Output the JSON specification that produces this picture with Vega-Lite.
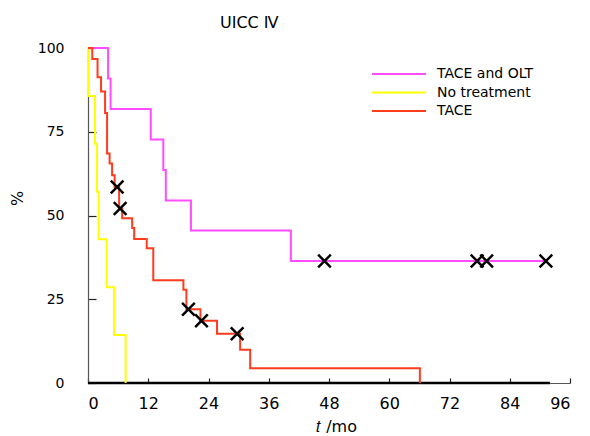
{
  "$schema": "https://vega.github.io/schema/vega-lite/v6.json",
  "width": 482,
  "height": 335,
  "autosize": {"type": "none"},
  "padding": {"left": 88, "top": 48, "right": 20, "bottom": 53},
  "title": {
    "text": "UICC Ⅳ",
    "anchor": "start",
    "frame": "group",
    "dx": 132,
    "offset": -3,
    "baseline": "alphabetic",
    "fontSize": 16,
    "font": "DejaVu Sans",
    "fontWeight": "normal",
    "color": "#000"
  },
  "config": {
    "view": {"stroke": null},
    "font": "DejaVu Sans",
    "axis": {
      "grid": false,
      "domainColor": "#555",
      "domainWidth": 1.2,
      "tickColor": "#222",
      "tickWidth": 1.2,
      "labelColor": "#000",
      "labelFontSize": 15,
      "titleFontSize": 16,
      "titleFontWeight": "normal",
      "titleColor": "#000"
    }
  },
  "encoding": {
    "x": {
      "field": "t",
      "type": "quantitative",
      "scale": {"domain": [0, 96], "nice": false},
      "axis": {
        "title": "𝑡 /mo",
        "values": [0, 12, 24, 36, 48, 60, 72, 84, 96],
        "tickSize": -5,
        "labelPadding": 17,
        "labelFontSize": 16,
        "titleX": 248,
        "titleY": 48,
        "titleBaseline": "alphabetic",
        "titleAlign": "center"
      }
    },
    "y": {
      "field": "s",
      "type": "quantitative",
      "scale": {"domain": [0, 100], "nice": false},
      "axis": {
        "title": "%",
        "values": [0, 25, 50, 75, 100],
        "tickSize": -8,
        "labelPadding": 32,
        "labelFontSize": 14,
        "titleX": -71,
        "titleY": 150,
        "titleAngle": -90,
        "titleBaseline": "middle",
        "titleAlign": "center"
      }
    }
  },
  "layer": [
    {
      "data": {"values": [{"t": 0, "s": 0}, {"t": 92, "s": 0}]},
      "mark": {"type": "line", "color": "#000", "strokeWidth": 2.5}
    },
    {
      "data": {
        "values": [
          {"group": "TACE and OLT", "t": 0, "s": 100},
          {"group": "TACE and OLT", "t": 4.0, "s": 90.9},
          {"group": "TACE and OLT", "t": 4.5, "s": 81.8},
          {"group": "TACE and OLT", "t": 12.5, "s": 72.7},
          {"group": "TACE and OLT", "t": 15.0, "s": 63.6},
          {"group": "TACE and OLT", "t": 15.5, "s": 54.5},
          {"group": "TACE and OLT", "t": 20.5, "s": 45.5},
          {"group": "TACE and OLT", "t": 40.4, "s": 36.4},
          {"group": "TACE and OLT", "t": 91.2, "s": 36.4},
          {"group": "No treatment", "t": 0, "s": 100},
          {"group": "No treatment", "t": 0.1, "s": 85.7},
          {"group": "No treatment", "t": 1.4, "s": 71.4},
          {"group": "No treatment", "t": 1.8, "s": 57.1},
          {"group": "No treatment", "t": 2.1, "s": 42.9},
          {"group": "No treatment", "t": 3.7, "s": 28.6},
          {"group": "No treatment", "t": 5.2, "s": 14.3},
          {"group": "No treatment", "t": 7.5, "s": 0},
          {"group": "TACE", "t": 0, "s": 100},
          {"group": "TACE", "t": 0.85, "s": 96.7},
          {"group": "TACE", "t": 1.9, "s": 91.3},
          {"group": "TACE", "t": 2.6, "s": 87.0},
          {"group": "TACE", "t": 3.4, "s": 80.6},
          {"group": "TACE", "t": 3.8, "s": 68.5},
          {"group": "TACE", "t": 4.3, "s": 65.5},
          {"group": "TACE", "t": 4.8, "s": 62.0},
          {"group": "TACE", "t": 5.3, "s": 58.5},
          {"group": "TACE", "t": 6.2, "s": 52.1},
          {"group": "TACE", "t": 6.8, "s": 49.2},
          {"group": "TACE", "t": 8.8, "s": 46.3},
          {"group": "TACE", "t": 9.2, "s": 43.0},
          {"group": "TACE", "t": 11.7, "s": 40.2},
          {"group": "TACE", "t": 13.0, "s": 30.7},
          {"group": "TACE", "t": 19.0, "s": 27.8},
          {"group": "TACE", "t": 19.6, "s": 22.0},
          {"group": "TACE", "t": 22.4, "s": 18.6},
          {"group": "TACE", "t": 25.7, "s": 14.7},
          {"group": "TACE", "t": 30.3, "s": 9.9},
          {"group": "TACE", "t": 32.3, "s": 4.4},
          {"group": "TACE", "t": 66.1, "s": 0}
        ]
      },
      "mark": {"type": "line", "interpolate": "step-after", "strokeWidth": 2},
      "encoding": {
        "color": {
          "field": "group",
          "type": "nominal",
          "scale": {
            "domain": ["TACE and OLT", "No treatment", "TACE"],
            "range": ["#ff4dff", "#ffff00", "#ff3c1e"]
          },
          "legend": {
            "title": null,
            "orient": "none",
            "legendX": 301,
            "legendY": 16,
            "symbolType": "M-3,0L3,0",
            "symbolSize": 324,
            "symbolStrokeWidth": 2,
            "labelFontSize": 14,
            "labelFont": "DejaVu Sans",
            "labelColor": "#000",
            "labelOffset": 28,
            "rowPadding": 1.5
          }
        }
      }
    },
    {
      "data": {
        "values": [
          {"t": 5.8, "s": 58.5},
          {"t": 6.4, "s": 52.1},
          {"t": 20.0, "s": 22.0},
          {"t": 22.6, "s": 18.6},
          {"t": 29.7, "s": 14.7},
          {"t": 47.1, "s": 36.4},
          {"t": 77.5, "s": 36.4},
          {"t": 79.4, "s": 36.4},
          {"t": 91.2, "s": 36.4}
        ]
      },
      "mark": {
        "type": "point",
        "shape": "M-1,-1L1,1M-1,1L1,-1",
        "size": 160,
        "filled": false,
        "color": "#000",
        "strokeWidth": 2.5,
        "opacity": 1
      }
    }
  ]
}
